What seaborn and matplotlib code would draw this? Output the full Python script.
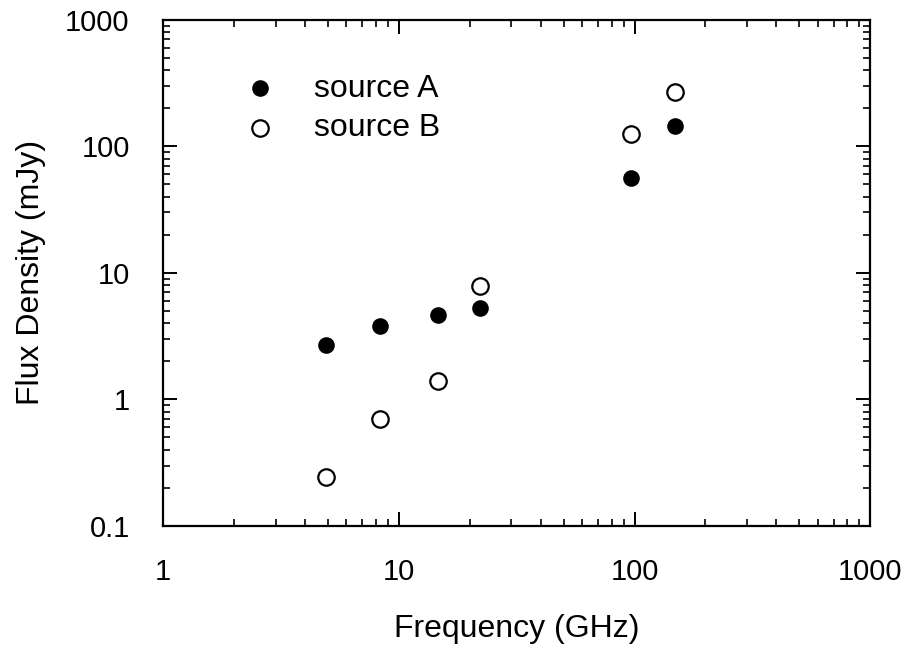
import matplotlib
matplotlib.use("Agg")
import matplotlib.pyplot as plt
import seaborn as sns
import pandas as pd
from matplotlib.ticker import LogLocator, FixedLocator, NullFormatter

freq_a = [4.9, 8.3, 14.6, 22.0, 97, 148]
flux_a = [2.7, 3.8, 4.6, 5.3, 56, 146]
freq_b = [4.9, 8.3, 14.6, 22.0, 97, 148]
flux_b = [0.245, 0.70, 1.40, 7.9, 126, 270]
labels = ["source A", "source B"]
x_ticks = [1, 10, 100, 1000]
x_ticklabels = ["1", "10", "100", "1000"]
y_ticks = [0.1, 1, 10, 100, 1000]
y_ticklabels = ["0.1", "1", "10", "100", "1000"]

df_a = pd.DataFrame({"f": freq_a, "s": flux_a})
df_b = pd.DataFrame({"f": freq_b, "s": flux_b})

sns.set_theme(style="ticks")
plt.rcParams["font.family"] = ["Liberation Sans", "DejaVu Sans"]
plt.rcParams["text.color"] = "black"
plt.rcParams["axes.labelcolor"] = "black"
plt.rcParams["xtick.color"] = "black"
plt.rcParams["ytick.color"] = "black"

fig, ax = plt.subplots(figsize=(9.18, 6.59), dpi=100)
fig.subplots_adjust(left=0.1776, right=0.948, top=0.970, bottom=0.202)

sns.scatterplot(data=df_a, x="f", y="s", ax=ax, s=120, color="black",
                edgecolor="black", linewidth=1, marker="o", label=labels[0])
sns.scatterplot(data=df_b, x="f", y="s", ax=ax, s=140, facecolor="white",
                edgecolor="black", linewidth=1.6, marker="o", label=labels[1])

ax.set_xscale("log")
ax.set_yscale("log")
ax.set_xlim(1, 1000)
ax.set_ylim(0.1, 1000)
ax.xaxis.set_major_locator(FixedLocator(x_ticks))
ax.set_xticklabels(x_ticklabels)
ax.yaxis.set_major_locator(FixedLocator(y_ticks))
ax.set_yticklabels(y_ticklabels)
ax.xaxis.set_minor_locator(LogLocator(base=10, subs=range(2, 10), numticks=20))
ax.yaxis.set_minor_locator(LogLocator(base=10, subs=range(2, 10), numticks=20))
ax.xaxis.set_minor_formatter(NullFormatter())
ax.yaxis.set_minor_formatter(NullFormatter())

ax.tick_params(which="major", direction="in", length=10, width=1.4,
               top=True, right=True, labelsize=21, colors="black")
ax.tick_params(axis="x", which="major", pad=23)
ax.tick_params(axis="y", which="major", pad=24)
ax.tick_params(which="minor", direction="in", length=5, width=1.2,
               top=True, right=True, colors="black")
for sp in ax.spines.values():
    sp.set_linewidth(1.6)
    sp.set_color("black")
    sp.set_visible(True)

ax.set_xlabel("Frequency (GHz)", fontsize=23, labelpad=20, color="black")
ax.set_ylabel("Flux Density (mJy)", fontsize=23, labelpad=14, color="black")

leg = ax.legend(loc="upper left", bbox_to_anchor=(0.0735, 0.919), frameon=False,
                fontsize=23, handletextpad=0.7, labelspacing=0.3,
                borderaxespad=0)
for t in leg.get_texts():
    t.set_color("black")

fig.savefig("out.png", dpi=100)
